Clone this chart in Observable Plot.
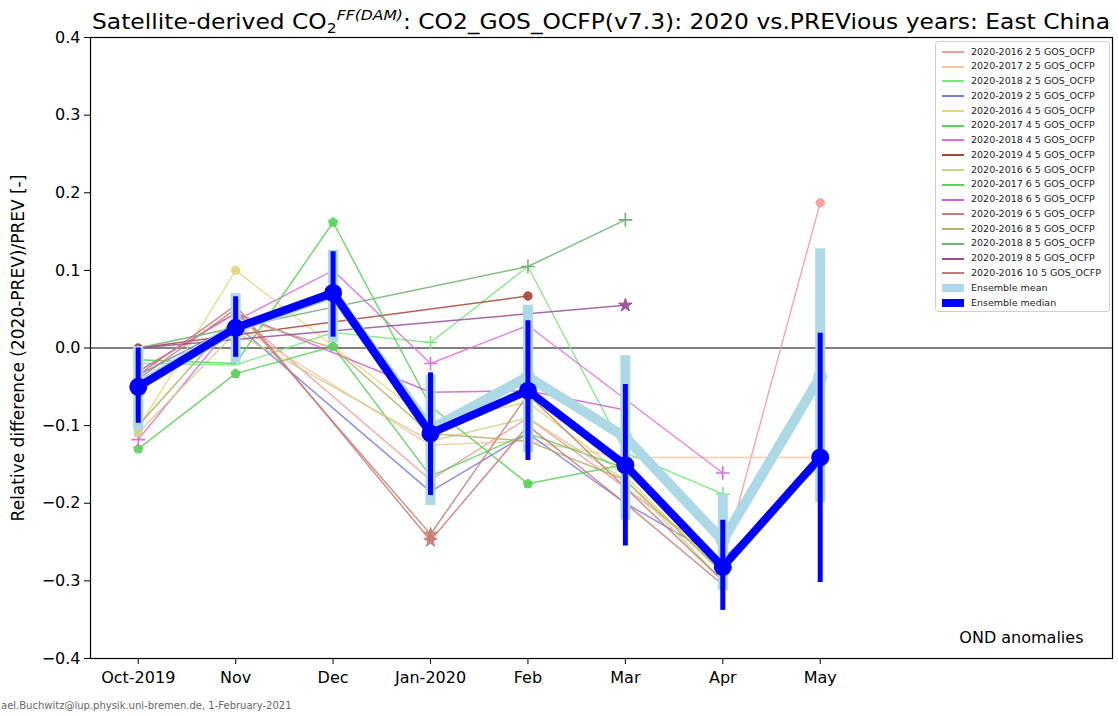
<!DOCTYPE html>
<html>
<head>
<meta charset="utf-8">
<script src="https://cdn.jsdelivr.net/npm/d3@7"></script>
<script src="https://cdn.jsdelivr.net/npm/@observablehq/plot@0.6"></script>
<style>
  body { margin: 0; background: #fff; font-family: "DejaVu Sans", sans-serif; }
  #wrap { position: relative; width: 1118px; height: 717px; overflow: hidden; background: #fff; }
  #chart { position: absolute; left: 0; top: 18px; }
  #title { position: absolute; left: 92px; top: 0; height: 30px; line-height: 30px; font-size: 21px;
           white-space: nowrap; transform-origin: 0 50%; color: #000; z-index: 2; }
  #title sub { font-size: 14px; vertical-align: -4px; }
  #title sup { font-size: 14px; font-style: italic; vertical-align: 9px; }
  #legend { position: absolute; left: 935px; top: 41px; width: 175px; height: 271px; box-sizing: border-box;
            border: 1px solid #cfcfcf; border-radius: 3px; background: rgba(255,255,255,0.85);
            padding-top: 2.5px; font-size: 9.5px; color: #222; z-index: 2; }
  #legend .row { position: relative; height: 14.78px; line-height: 14.78px; white-space: nowrap; }
  #legend .sw { position: absolute; left: 6px; top: 6.4px; width: 22px; height: 2px; }
  #legend .sw.thick { top: 3.4px; height: 8px; }
  #legend .lab { position: absolute; left: 35px; top: 0; }
  #credit { position: absolute; left: 1px; top: 700px; font-size: 10px; color: #666; white-space: nowrap; }
</style>
</head>
<body>
<div id="wrap">
  <div id="chart"></div>
  <div id="title">Satellite-derived CO<sub>2</sub><sup>FF(DAM)</sup>: CO2_GOS_OCFP(v7.3): 2020 vs.PREVious years: East China</div>
  <div id="legend"></div>
  <div id="credit">ael.Buchwitz@iup.physik.uni-bremen.de, 1-February-2021</div>
</div>
<script>
// Months on the x axis (Oct-2019 .. May-2020)
const months = ["Oct-2019", "Nov", "Dec", "Jan-2020", "Feb", "Mar", "Apr", "May"];
const yTicks = [-0.4, -0.3, -0.2, -0.1, 0.0, 0.1, 0.2, 0.3, 0.4];

// Relative difference (2020-PREV)/PREV per comparison; null = no value that month
const seriesNames = [
  "2020-2016 2 5 GOS_OCFP", "2020-2017 2 5 GOS_OCFP", "2020-2018 2 5 GOS_OCFP", "2020-2019 2 5 GOS_OCFP",
  "2020-2016 4 5 GOS_OCFP", "2020-2017 4 5 GOS_OCFP", "2020-2018 4 5 GOS_OCFP", "2020-2019 4 5 GOS_OCFP",
  "2020-2016 6 5 GOS_OCFP", "2020-2017 6 5 GOS_OCFP", "2020-2018 6 5 GOS_OCFP", "2020-2019 6 5 GOS_OCFP",
  "2020-2016 8 5 GOS_OCFP", "2020-2018 8 5 GOS_OCFP", "2020-2019 8 5 GOS_OCFP", "2020-2016 10 5 GOS_OCFP"
];
const s2016_2 = [-0.030, 0.045, null, -0.170, -0.090, -0.180, -0.275, 0.187];
const s2017_2 = [-0.045, 0.030, null, -0.125, -0.120, -0.141, null, -0.141];
const s2018_2 = [-0.020, -0.022, 0.020, 0.007, 0.105, -0.135, -0.188, null];
const s2019_2 = [-0.035, 0.030, null, -0.185, -0.110, -0.200, -0.272, -0.150];
const s2016_4 = [-0.103, 0.100, null, -0.095, -0.070, -0.165, -0.290, null];
const s2017_4 = [-0.130, -0.033, 0.002, -0.165, -0.110, -0.155, null, null];
const s2018_4 = [-0.118, 0.035, 0.100, -0.020, 0.029, null, -0.161, null];
const s2019_4 = [0.000, null, null, null, 0.067, null, null, null];
const s2016_6 = [-0.109, 0.020, null, -0.120, -0.090, -0.170, -0.300, null];
const s2017_6 = [-0.015, -0.020, 0.162, -0.075, -0.175, -0.150, null, null];
const s2018_6 = [-0.030, 0.045, null, -0.057, -0.055, -0.080, null, null];
const s2019_6 = [-0.040, 0.050, null, -0.240, -0.060, -0.180, -0.300, null];
const s2016_8 = [-0.100, 0.040, 0.000, -0.110, -0.120, -0.170, -0.290, null];
const s2018_8 = [0.000, null, null, null, 0.105, 0.165, null, null];
const s2019_8 = [0.000, null, null, null, null, 0.055, null, null];
const s2016_10 = [-0.035, 0.055, null, -0.248, -0.100, -0.200, -0.305, null];
const seriesValues = [s2016_2, s2017_2, s2018_2, s2019_2, s2016_4, s2017_4, s2018_4, s2019_4,
                      s2016_6, s2017_6, s2018_6, s2019_6, s2016_8, s2018_8, s2019_8, s2016_10];

// Ensemble statistics with their spread
const meanValues = [-0.048, 0.025, 0.070, -0.105, -0.037, -0.115, -0.248, -0.037];
const meanHigh   = [0.002, 0.070, 0.126, -0.035, 0.055, -0.010, -0.188, 0.128];
const meanLow    = [-0.106, -0.020, 0.007, -0.203, -0.135, -0.222, -0.312, -0.199];
const medianValues = [-0.050, 0.026, 0.071, -0.110, -0.055, -0.151, -0.282, -0.141];
const medianHigh   = [0.000, 0.066, 0.124, -0.032, 0.035, -0.047, -0.222, 0.019];
const medianLow    = [-0.097, -0.012, 0.014, -0.190, -0.145, -0.255, -0.338, -0.302];

// Styling for each comparison line
const seriesColors = ["#f39a9a", "#f9c69b", "#7be87b", "#7a7ae6", "#e2d77a", "#5ccf5c", "#e070d8", "#a4453b",
                      "#cfd08a", "#55d455", "#cc60cc", "#c48070", "#b8ae6a", "#70b070", "#9a4a9a", "#c87878"];

// Regular pentagon symbol for d3/Plot dots
const pentagon = {
  draw(ctx, size) {
    const r = Math.sqrt(size / 2.3776);
    for (let k = 0; k < 5; ++k) {
      const a = -Math.PI / 2 + k * 2 * Math.PI / 5;
      const x = r * Math.cos(a), y = r * Math.sin(a);
      if (k === 0) ctx.moveTo(x, y); else ctx.lineTo(x, y);
    }
    ctx.closePath();
  }
};
const seriesMarkers = [
  {symbol: "circle", at: [7]}, {symbol: null, at: []}, {symbol: "plus", at: [3, 6]}, {symbol: null, at: []},
  {symbol: "circle", at: [0, 1]}, {symbol: pentagon, at: [0, 1, 2]}, {symbol: "plus", at: [0, 3, 6]}, {symbol: "circle", at: [0, 4]},
  {symbol: "square", at: [0]}, {symbol: pentagon, at: [2, 4]}, {symbol: null, at: []}, {symbol: "star", at: [3]},
  {symbol: null, at: []}, {symbol: "plus", at: [4, 5]}, {symbol: "star", at: [5]}, {symbol: "star", at: [3]}
];

const rows = vals => vals.map((v, i) => ({i, v})).filter(d => d.v != null);
const idx = d3.range(months.length);
const meanRows = idx.map(i => ({i, v: meanValues[i], lo: meanLow[i], hi: meanHigh[i]}));
const medianRows = idx.map(i => ({i, v: medianValues[i], lo: medianLow[i], hi: medianHigh[i]}));

const thinLines = seriesValues.map((vals, k) =>
  Plot.line(rows(vals), {x: "i", y: "v", stroke: seriesColors[k], strokeWidth: 1.5, strokeOpacity: 0.85}));
const thinMarkers = seriesValues.flatMap((vals, k) => {
  const m = seriesMarkers[k];
  if (!m.symbol) return [];
  const pts = m.at.map(i => ({i, v: vals[i]}));
  const isStroke = m.symbol === "plus";
  return [Plot.dot(pts, {
    x: "i", y: "v", symbol: m.symbol, r: isStroke ? 4.5 : 4.2,
    fill: isStroke ? "none" : seriesColors[k], stroke: seriesColors[k],
    strokeWidth: isStroke ? 1.6 : 1, fillOpacity: 0.9
  })];
});

const chart = Plot.plot({
  width: 1118, height: 699,
  marginTop: 19, marginBottom: 59, marginLeft: 90, marginRight: 6,
  style: {fontFamily: "DejaVu Sans, sans-serif", fontSize: "16px", color: "#000", background: "transparent"},
  x: {domain: [-0.49, 10], axis: null},
  y: {domain: [-0.4, 0.4], axis: null},
  marks: [
    Plot.ruleY([0], {stroke: "#808080", strokeWidth: 2}),
    ...thinLines,
    ...thinMarkers,
    Plot.ruleX(meanRows, {x: "i", y1: "lo", y2: "hi", stroke: "#add8e6", strokeWidth: 10}),
    Plot.line(meanRows, {x: "i", y: "v", stroke: "#add8e6", strokeWidth: 10}),
    Plot.dot(meanRows, {x: "i", y: "v", r: 7, fill: "#add8e6"}),
    Plot.ruleX(medianRows, {x: "i", y1: "lo", y2: "hi", stroke: "#0000ff", strokeWidth: 5}),
    Plot.line(medianRows, {x: "i", y: "v", stroke: "#0000ff", strokeWidth: 8}),
    Plot.dot(medianRows, {x: "i", y: "v", r: 9, fill: "#0000ff"}),
    Plot.axisX(idx, {tickFormat: i => months[i], tickSize: 6, tickPadding: 7, fontSize: 16, label: null}),
    Plot.axisY(yTicks, {tickFormat: d3.format(".1f"), tickSize: 6, tickPadding: 4, fontSize: 16, label: null}),
    Plot.frame({stroke: "#000", strokeWidth: 1.2}),
    Plot.text(["OND anomalies"], {frameAnchor: "bottom-right", textAnchor: "end", lineAnchor: "middle",
                                   dx: -29, dy: -21, fontSize: 16}),
    Plot.text(["Relative difference (2020-PREV)/PREV [-]"], {frameAnchor: "left", rotate: -90,
                                   textAnchor: "middle", lineAnchor: "middle", dx: -72, fontSize: 17})
  ]
});
document.getElementById("chart").append(chart);

// Legend
const legend = d3.select("#legend");
seriesNames.forEach((name, k) => {
  const row = legend.append("div").attr("class", "row");
  row.append("span").attr("class", "sw").style("background", seriesColors[k]);
  row.append("span").attr("class", "lab").text(name);
});
[["Ensemble mean", "#add8e6"], ["Ensemble median", "#0000ff"]].forEach(([name, c]) => {
  const row = legend.append("div").attr("class", "row");
  row.append("span").attr("class", "sw thick").style("background", c);
  row.append("span").attr("class", "lab").text(name);
});

// Fit the title to the plot width
const title = document.getElementById("title");
const w = title.getBoundingClientRect().width;
title.style.transform = `scaleX(${1018 / w})`;
</script>
</body>
</html>
